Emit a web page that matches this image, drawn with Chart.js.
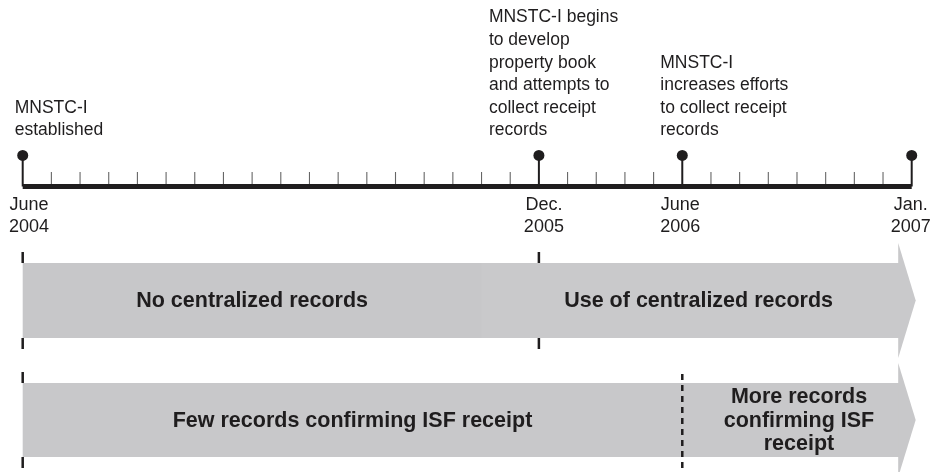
<!DOCTYPE html>
<html>
<head>
<meta charset="utf-8">
<script src="https://cdn.jsdelivr.net/npm/chart.js@4/dist/chart.umd.min.js"></script>
<style>
  html, body { margin: 0; padding: 0; background: #fff; }
  #wrap { width: 943px; height: 472px; }
</style>
</head>
<body>
<div id="wrap"><canvas id="timeline" width="943" height="472"></canvas></div>
<script>
// --- 1. DATA ---
// timeline in month steps: June 2004 = 0 ... Jan. 2007 = 31
const monthSteps = 31;
const milestoneAt = [0, 18, 23, 31];
const milestoneDates = [['June', '2004'], ['Dec.', '2005'], ['June', '2006'], ['Jan.', '2007']];
const milestoneNotes = [
    ['MNSTC-I', 'established'],
    ['MNSTC-I begins', 'to develop', 'property book', 'and attempts to', 'collect receipt', 'records'],
    ['MNSTC-I', 'increases efforts', 'to collect receipt', 'records'],
    []
];

// bar 1: centralized records
const recordsSplit = [0, 16, 31];
const recordsLabels = [['No centralized records'], ['Use of centralized records']];
const recordsMarks = [0, 18];

// bar 2: receipt confirmation
const receiptSplit = [0, 23, 31];
const receiptLabels = [['Few records confirming ISF receipt'], ['More records', 'confirming ISF', 'receipt']];
const receiptMarks = [0];
const receiptDashed = [23];


// --- 2. LAYOUT & STYLE ---
const INK = '#1f1d1e';
const FONT = "'Liberation Sans', Arial, Helvetica, sans-serif";
const LAYOUT = {
    dotY: 153.5, axisY: 186.5, tickTop: 172,
    noteBottom: 130.5, noteLine: 22.6, noteShift: [-8, -50, -22, 0],
    dateY: 205, dateLine: 22, dateShift: [0, 5, -2, -1],
    bands: [{ top: 263, bottom: 338 }, { top: 383, bottom: 457 }],
    arrowBack: 13, arrowTip: 4, arrowFlare: 20
};


// --- 3. DRAWING HELPERS ---
function drawBand(ctx, px, split, box, colors, labels) {
    const last = split.length - 2;
    const bodyEnd = px(split[split.length - 1]) - LAYOUT.arrowBack;
    const tip = px(split[split.length - 1]) + LAYOUT.arrowTip;
    const mid = (box.top + box.bottom) / 2;

    for (let i = 0; i <= last; i++) {
        const x0 = px(split[i]);
        const x1 = i === last ? bodyEnd : px(split[i + 1]);
        ctx.fillStyle = colors[i];
        ctx.fillRect(x0, box.top, x1 - x0 + 0.5, box.bottom - box.top);
    }
    // arrow head
    ctx.fillStyle = colors[last];
    ctx.beginPath();
    ctx.moveTo(bodyEnd - 0.5, box.top - LAYOUT.arrowFlare);
    ctx.lineTo(tip, mid);
    ctx.lineTo(bodyEnd - 0.5, box.bottom + LAYOUT.arrowFlare);
    ctx.closePath();
    ctx.fill();

    // labels, centred in each stretch
    ctx.fillStyle = INK;
    ctx.font = 'bold 21.5px ' + FONT;
    ctx.textAlign = 'center';
    ctx.textBaseline = 'middle';
    labels.forEach((lines, i) => {
        const x0 = px(split[i]);
        const x1 = i === last ? tip : px(split[i + 1]);
        const lh = 23.5;
        lines.forEach((t, j) => {
            ctx.fillText(t, (x0 + x1) / 2, mid + 1 + (j - (lines.length - 1) / 2) * lh);
        });
    });
}

function drawMarks(ctx, px, marks, box, dashed) {
    ctx.strokeStyle = INK;
    ctx.lineWidth = 2.5;
    marks.forEach(m => {
        const x = px(m);
        ctx.beginPath();
        ctx.moveTo(x, box.top - 11); ctx.lineTo(x, box.top);
        ctx.moveTo(x, box.bottom); ctx.lineTo(x, box.bottom + 11);
        ctx.stroke();
    });
    ctx.setLineDash([6, 5]);
    dashed.forEach(m => {
        const x = px(m);
        ctx.beginPath();
        ctx.moveTo(x, box.top - 9); ctx.lineTo(x, box.bottom + 11);
        ctx.stroke();
    });
    ctx.setLineDash([]);
}

const timelinePlugin = {
    id: 'timeline',
    beforeDatasetsDraw(chart) {
        const ctx = chart.ctx;
        const px = v => chart.scales.x.getPixelForValue(v);
        ctx.save();

        // bands
        drawBand(ctx, px, recordsSplit, LAYOUT.bands[0], ['#c7c7c9', '#c9c9cb'], recordsLabels);
        drawMarks(ctx, px, recordsMarks, LAYOUT.bands[0], []);
        drawBand(ctx, px, receiptSplit, LAYOUT.bands[1], ['#c8c8ca', '#c8c8ca'], receiptLabels);
        drawMarks(ctx, px, receiptMarks, LAYOUT.bands[1], receiptDashed);

        // month ticks
        ctx.strokeStyle = '#666';
        ctx.lineWidth = 1.1;
        for (let k = 1; k < monthSteps; k++) {
            if (milestoneAt.includes(k)) continue;
            ctx.beginPath();
            ctx.moveTo(px(k), LAYOUT.tickTop);
            ctx.lineTo(px(k), LAYOUT.axisY - 2);
            ctx.stroke();
        }
        // stems
        ctx.strokeStyle = INK;
        ctx.lineWidth = 2;
        milestoneAt.forEach(m => {
            ctx.beginPath();
            ctx.moveTo(px(m), LAYOUT.dotY);
            ctx.lineTo(px(m), LAYOUT.axisY);
            ctx.stroke();
        });
        // main axis
        ctx.lineWidth = 5;
        ctx.beginPath();
        ctx.moveTo(px(0), LAYOUT.axisY);
        ctx.lineTo(px(monthSteps), LAYOUT.axisY);
        ctx.stroke();

        // notes above and dates below
        ctx.fillStyle = INK;
        ctx.font = '17.5px ' + FONT;
        ctx.textBaseline = 'middle';
        ctx.textAlign = 'left';
        milestoneNotes.forEach((lines, i) => {
            const x = px(milestoneAt[i]) + LAYOUT.noteShift[i];
            lines.forEach((t, j) => {
                ctx.fillText(t, x, LAYOUT.noteBottom - (lines.length - 1 - j) * LAYOUT.noteLine);
            });
        });
        ctx.font = '18px ' + FONT;
        ctx.textAlign = 'center';
        milestoneDates.forEach((lines, i) => {
            const w = Math.max(...lines.map(t => ctx.measureText(t).width));
            const x = Math.max(px(milestoneAt[i]) + LAYOUT.dateShift[i], 9 + w / 2);
            lines.forEach((t, j) => ctx.fillText(t, x, LAYOUT.dateY + j * LAYOUT.dateLine));
        });
        ctx.restore();
    }
};


// --- 4. CHART ---
new Chart(document.getElementById('timeline'), {
    type: 'scatter',
    data: {
        datasets: [{
            data: milestoneAt.map(m => ({ x: m, y: LAYOUT.dotY })),
            pointRadius: 5.5, pointHoverRadius: 5.5,
            backgroundColor: INK, borderWidth: 0,
            clip: false
        }]
    },
    options: {
        responsive: false, animation: false, devicePixelRatio: 1,
        events: [],
        layout: { padding: { left: 22.7, right: 31.3, top: 0, bottom: 0 } },
        scales: {
            x: { type: 'linear', display: false, min: 0, max: monthSteps },
            y: { type: 'linear', display: false, min: 0, max: 472, reverse: true }
        },
        plugins: { legend: { display: false }, tooltip: { enabled: false } }
    },
    plugins: [timelinePlugin]
});
</script>
</body>
</html>
